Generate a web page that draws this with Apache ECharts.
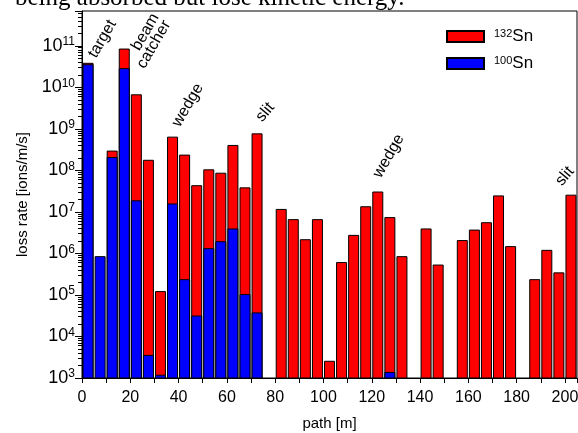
<!DOCTYPE html>
<html>
<head>
<meta charset="utf-8">
<script src="https://cdn.jsdelivr.net/npm/echarts@6/dist/echarts.min.js"></script>
<style>
  html, body { margin: 0; padding: 0; background: #fff; }
  #chart { width: 578px; height: 433px; }
</style>
</head>
<body>
<div id="chart"></div>
<script>
// bin centres along the beam line [m], 5 m bins
const positions = [2.5, 7.5, 12.5, 17.5, 22.5, 27.5, 32.5, 37.5, 42.5, 47.5,
  52.5, 57.5, 62.5, 67.5, 72.5, 77.5, 82.5, 87.5, 92.5, 97.5,
  102.5, 107.5, 112.5, 117.5, 122.5, 127.5, 132.5, 137.5, 142.5, 147.5,
  152.5, 157.5, 162.5, 167.5, 172.5, 177.5, 182.5, 187.5, 192.5, 197.5, 202.5];

// loss rate [ions/m/s], null = no loss in that bin
const sn132 = [3.9e10, null, 3.0e8, 8.6e10, 6.8e9, 1.8e8, 1.24e5, 6.5e8, 2.4e8, 4.4e7,
  1.06e8, 8.8e7, 4.1e8, 3.9e7, 7.8e8, null, 1.18e7, 6.7e6, 2.2e6, 6.7e6,
  2.6e3, 6.2e5, 2.8e6, 1.37e7, 3.1e7, 7.5e6, 8.6e5, null, 4.0e6, 5.4e5,
  null, 2.1e6, 3.75e6, 5.65e6, 2.5e7, 1.5e6, null, 2.4e5, 1.22e6, 3.5e5, 2.6e7];
const sn100 = [3.6e10, 8.6e5, 2.1e8, 2.9e10, 1.9e7, 3.6e3, 1.2e3, 1.6e7, 2.4e5, 3.2e4,
  1.34e6, 1.97e6, 4.0e6, 1.05e5, 3.8e4, null, null, null, null, null,
  null, null, null, null, null, 1.4e3, null, null, null, null,
  null, null, null, null, null, null, null, null, null, null, null];

// text annotations: [path, loss rate at the text's anchor, text, angle]
const notes = [
  [7.1, 4.4e10, 'target', 60],
  [25.0, 6.6e10, 'beam', 60],
  [27.2, 2.45e10, 'catcher', 60],
  [41.8, 9.6e8, 'wedge', 60],
  [75.8, 1.25e9, 'slit', 50],
  [125.0, 5.7e7, 'wedge', 60],
  [199.9, 3.6e7, 'slit', 50]
];

// minor ticks of the log axis (2..9 x 10^n)
const minorTicks = [];
for (let e = 3; e <= 11; e++) {
  for (let m = 2; m <= 9; m++) minorTicks.push(m * Math.pow(10, e));
}

const pairs = arr => positions.map((x, i) => [x, arr[i]]).filter(d => d[1] != null);

const chart = echarts.init(document.getElementById('chart'));

const supLabel = v => {
  const e = Math.log10(v);
  if (Math.abs(e - Math.round(e)) > 1e-6) return '';
  return '{b|10}{s|' + Math.round(e) + '}';
};

chart.setOption({
  animation: false,
  grid: {
    left: 82, right: 1, top: 11, bottom: 55, containLabel: false, outerBoundsMode: 'none',
    show: true, borderColor: '#000', borderWidth: 1
  },
  legend: {
    orient: 'vertical', left: 446, top: 28, padding: 0,
    itemWidth: 37, itemHeight: 11, itemGap: 10,
    icon: 'rect',
    formatter: name => name === '132Sn' ? '{s|132}{n|Sn}' : '{s|100}{n|Sn}',
    textStyle: {
      padding: [0, 0, 0, 5],
      rich: {
        s: { fontFamily: 'Liberation Sans', fontSize: 11, color: '#000', verticalAlign: 'top', padding: [0, 0, 4, 0] },
        n: { fontFamily: 'Liberation Sans', fontSize: 17, color: '#000' }
      }
    },
    data: ['132Sn', '100Sn']
  },
  xAxis: {
    type: 'value', min: 0, max: 205, interval: 10,
    name: 'path [m]', nameLocation: 'middle', nameGap: 38,
    nameTextStyle: { fontFamily: 'Liberation Sans', fontSize: 15, color: '#000' },
    axisLine: { lineStyle: { color: '#000', width: 1 } },
    axisTick: { length: 5, lineStyle: { color: '#000' } },
    axisLabel: {
      margin: 12, fontFamily: 'Liberation Sans', fontSize: 16, color: '#000',
      formatter: v => (v % 20 === 0 ? String(v) : '')
    },
    splitLine: { show: false }
  },
  yAxis: [{
    type: 'log', min: 1e3, max: 6.9e11, splitNumber: 9,
    name: 'loss rate [ions/m/s]', nameLocation: 'middle', nameGap: 52,
    nameTextStyle: { fontFamily: 'Liberation Sans', fontSize: 15, color: '#000' },
    axisLine: { show: true, lineStyle: { color: '#000', width: 1 } },
    axisTick: { length: 7, lineStyle: { color: '#000' } },
    axisLabel: {
      margin: 7, color: '#000', formatter: supLabel,
      rich: {
        b: { fontFamily: 'Liberation Sans', fontSize: 18, lineHeight: 20, color: '#000' },
        s: { fontFamily: 'Liberation Sans', fontSize: 12, lineHeight: 12, color: '#000', verticalAlign: 'top' }
      }
    },
    splitLine: { show: false }
  }, {
    type: 'log', min: 1e3, max: 6.9e11, position: 'left',
    axisLine: { show: false },
    axisTick: { show: true, length: 4, customValues: minorTicks, lineStyle: { color: '#000' } },
    axisLabel: { show: false },
    splitLine: { show: false }
  }],
  series: [{
    name: '132Sn', type: 'bar', barWidth: 11, barGap: '-100%',
    itemStyle: { color: '#ff0000', borderColor: '#000', borderWidth: 1 },
    data: pairs(sn132)
  }, {
    name: '100Sn', type: 'bar', barWidth: 11, barGap: '-100%',
    itemStyle: { color: '#0000ff', borderColor: '#000', borderWidth: 1 },
    data: pairs(sn100)
  }]
});

const graphics = notes.map(n => {
  const p = chart.convertToPixel({ gridIndex: 0 }, [n[0], n[1]]);
  return {
    type: 'text', x: p[0], y: p[1], rotation: n[3] * Math.PI / 180,
    style: {
      text: n[2], fill: '#000', font: '16px "Liberation Sans"',
      align: 'left', verticalAlign: 'bottom'
    }
  };
});
graphics.push({
  type: 'text', x: 15, y: 11,
  style: {
    text: 'being absorbed but lose kinetic energy.', fill: '#000',
    font: '25px "Liberation Serif"', align: 'left', verticalAlign: 'bottom'
  }
});
chart.setOption({ graphic: graphics });
</script>
</body>
</html>
